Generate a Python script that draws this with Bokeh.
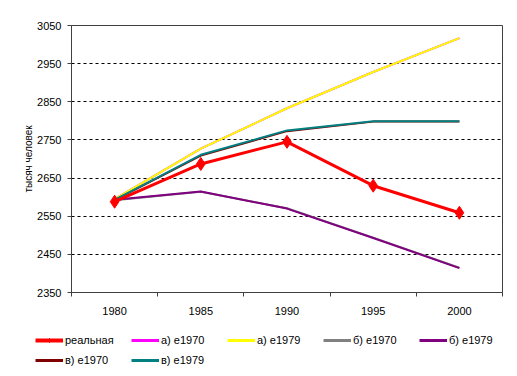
from bokeh.plotting import figure
from bokeh.models import FixedTicker, Legend, LegendItem, Range1d
from bokeh.layouts import column
from bokeh.embed import file_html
from bokeh.resources import INLINE

years = ["1980", "1985", "1990", "1995", "2000"]
real = [2588, 2687, 2745, 2630, 2559]
a1970 = [2595, 2727, 2833, 2928, 3017]
a1979 = [2595, 2727, 2833, 2928, 3017]
b1970 = [2592, 2614, 2571, 2494, 2415]
b1979 = [2593, 2615, 2570, 2493, 2414]
v1970 = [2592, 2709, 2773, 2798, 2798]
v1979 = [2593, 2711, 2775, 2799, 2799]
y_ticks = [2350, 2450, 2550, 2650, 2750, 2850, 2950, 3050]

labels = ["реальная", "а) е1970", "а) е1979", "б) е1970", "б) е1979", "в) е1970", "в) е1979"]
series = [real, a1970, a1979, b1970, b1979, v1970, v1979]
colors = ["#FF0000", "#FF00FF", "#FFFF00", "#808080", "#800080", "#800000", "#008080"]
widths = [3, 2, 2, 2, 2, 2, 2]

xpos = [i + 0.5 for i in range(len(years))]
font = "Liberation Sans"

p = figure(frame_width=431, frame_height=267, output_backend="svg", toolbar_location=None,
           x_range=(0, len(years)), y_range=(2350, 3050),
           min_border_left=71, min_border_right=15, min_border_top=25, min_border_bottom=26)
p.background_fill_color = "white"
p.border_fill_color = "white"
p.outline_line_color = "#404040"
p.outline_line_width = 1

p.xaxis.ticker = FixedTicker(ticks=xpos, minor_ticks=list(range(len(years) + 1)))
p.xaxis.major_label_overrides = {x: y for x, y in zip(xpos, years)}
p.xaxis.major_tick_line_color = None
p.xaxis.minor_tick_line_color = "#404040"
p.xaxis.minor_tick_out = 4
p.xaxis.minor_tick_in = 0
p.xaxis.axis_line_color = "#404040"
p.xaxis.major_label_text_font = font
p.xaxis.major_label_text_font_size = "11px"
p.xaxis.major_label_text_color = "black"
p.xaxis.major_label_standoff = 8

p.yaxis.ticker = FixedTicker(ticks=y_ticks, minor_ticks=[])
p.yaxis.major_tick_out = 4
p.yaxis.major_tick_in = 0
p.yaxis.major_tick_line_color = "#404040"
p.yaxis.axis_line_color = "#404040"
p.yaxis.major_label_text_font = font
p.yaxis.major_label_text_font_size = "11px"
p.yaxis.major_label_text_color = "black"
p.yaxis.major_label_standoff = 6
p.yaxis.axis_label = "тысяч человек"
p.yaxis.axis_label_text_font = font
p.yaxis.axis_label_text_font_size = "10px"
p.yaxis.axis_label_text_font_style = "normal"
p.yaxis.axis_label_text_color = "black"
p.yaxis.axis_label_standoff = 0

p.xgrid.grid_line_color = None
p.ygrid.grid_line_color = "black"
p.ygrid.grid_line_dash = "3 3"
p.ygrid.grid_line_width = 1

# draw order: scenario lines first, real data on top
for i in range(1, len(series)):
    p.line(xpos, series[i], line_color=colors[i], line_width=widths[i])
p.line(xpos, series[0], line_color=colors[0], line_width=widths[0])
p.scatter(xpos, series[0], marker="diamond", size=13, fill_color=colors[0], line_color=colors[0])

# separate legend strip
lg = figure(width=517, height=58, output_backend="svg", toolbar_location=None,
            x_axis_type=None, y_axis_type=None,
            x_range=Range1d(-100, -99), y_range=Range1d(-100, -99),
            min_border=0)
lg.outline_line_color = None
lg.background_fill_color = "white"
lg.border_fill_color = "white"
lg.xgrid.grid_line_color = None
lg.ygrid.grid_line_color = None

legend_x = 35
if "frame_align" in lg.properties():
    lg.frame_align = False
    p.frame_align = False
else:
    lg.min_border_left = 0
    legend_x = 35

items = []
for i in range(len(series)):
    rl = lg.line(xpos, series[i], line_color=colors[i], line_width=widths[i] + 1)
    rends = [rl]
    if i == 0:
        rends.append(lg.scatter(xpos, series[0], marker="diamond", size=7,
                                fill_color=colors[0], line_color=colors[0]))
    items.append(LegendItem(label=labels[i], renderers=rends))

legend = Legend(items=items, ncols=5, orientation="horizontal",
                label_text_font=font, label_text_font_size="11px", label_text_color="black",
                glyph_width=28, glyph_height=10, label_standoff=2,
                spacing=6, padding=2, margin=0, border_line_color=None,
                background_fill_alpha=0,
                label_width=60, label_height=14, location=(legend_x, 9))
lg.add_layout(legend, "center")

layout = column(p, lg, spacing=0)
open("out.html", "w").write(file_html(layout, INLINE))
